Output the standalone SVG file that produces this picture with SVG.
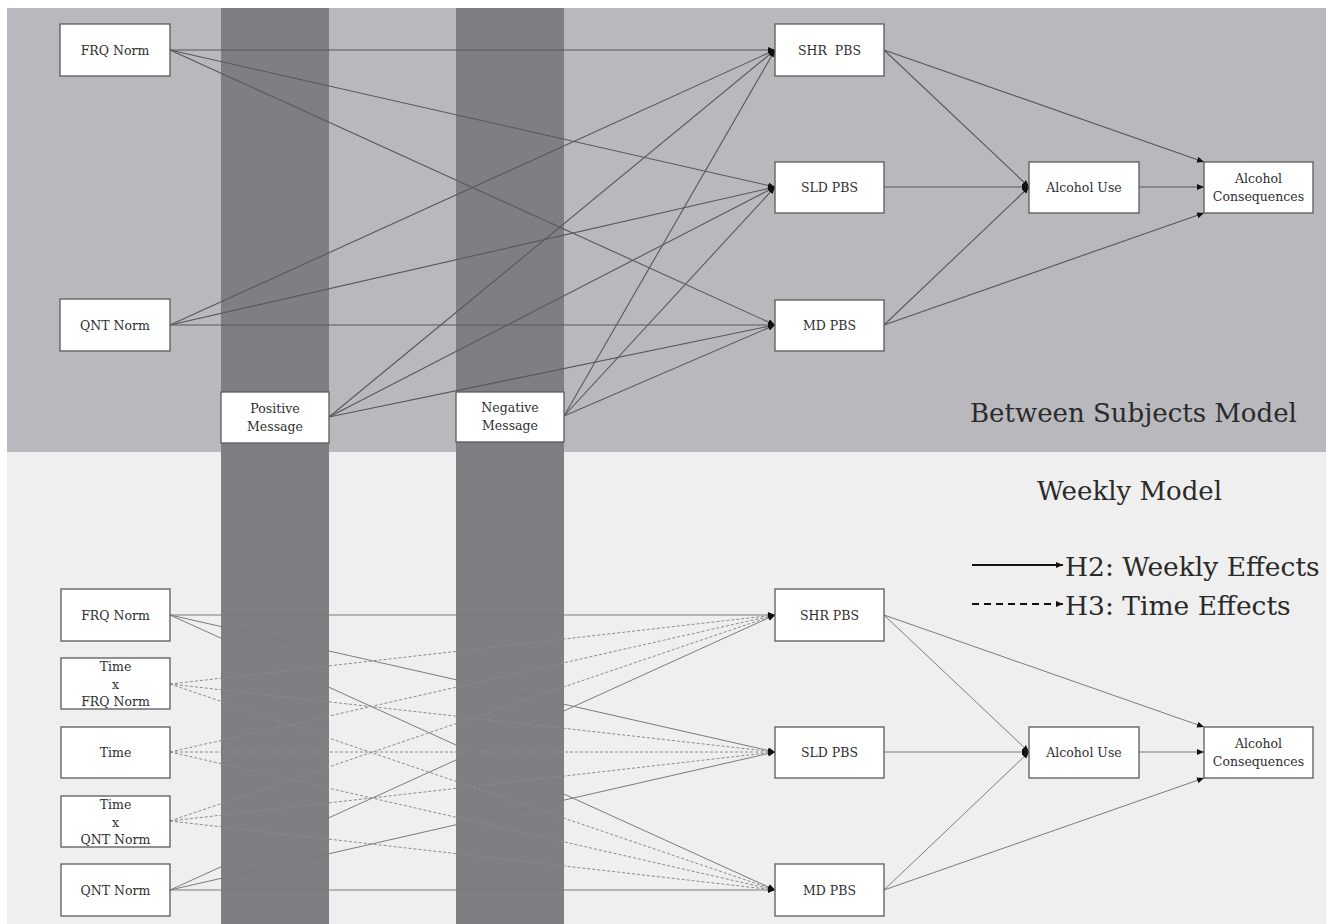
<svg xmlns="http://www.w3.org/2000/svg" width="1336" height="924" viewBox="0 0 1336 924">
<defs>
<marker id="ah" markerUnits="userSpaceOnUse" markerWidth="8" markerHeight="8" refX="7" refY="4" orient="auto"><path d="M0,1 L7,4 L0,7 Z" fill="#111"/></marker>
<style>
.box{fill:#fff;stroke:#5a5a5a;stroke-width:1.3}
text{font-family:"DejaVu Serif","Liberation Serif",serif}
.t{font-size:12.5px;fill:#2e2e2e;text-anchor:middle}
.big{font-size:26px;fill:#2a2a2a}
.lg{font-size:26.5px;fill:#2a2a2a}
.ct{stroke:#58585c;stroke-width:1.1;fill:none;marker-end:url(#ah)}
.cb{stroke:#7c7c7c;stroke-width:1;fill:none;marker-end:url(#ah)}
.cd{stroke:#8c8c8c;stroke-width:1;fill:none;stroke-dasharray:3 2;marker-end:url(#ah)}
</style>
</defs>
<rect x="0" y="0" width="1336" height="924" fill="#ffffff"/>
<rect x="7" y="8" width="1319" height="444" fill="#b9b9bd"/>
<rect x="7" y="452" width="1319" height="472" fill="#efefef"/>
<rect x="221" y="8" width="108" height="916" fill="#7f7f83"/>
<rect x="456" y="8" width="108" height="916" fill="#7f7f83"/>
<text class="big" x="970" y="422">Between Subjects Model</text>
<text class="big" x="1037" y="500">Weekly Model</text>
<g id="legend">
<line x1="972" y1="565" x2="1063" y2="565" stroke="#111" stroke-width="2" marker-end="url(#ah)"/>
<text class="lg" x="1065" y="576">H2: Weekly Effects</text>
<line x1="972" y1="604" x2="1063" y2="604" stroke="#111" stroke-width="2" stroke-dasharray="7 5" marker-end="url(#ah)"/>
<text class="lg" x="1065" y="615">H3: Time Effects</text>
</g>
<g id="connectors">
<line class="ct" x1="170" y1="50" x2="775" y2="50"/>
<line class="ct" x1="170" y1="50" x2="775" y2="187"/>
<line class="ct" x1="170" y1="50" x2="775" y2="325"/>
<line class="ct" x1="170" y1="325" x2="775" y2="50"/>
<line class="ct" x1="170" y1="325" x2="775" y2="187"/>
<line class="ct" x1="170" y1="325" x2="775" y2="325"/>
<line class="ct" x1="329" y1="417" x2="775" y2="50"/>
<line class="ct" x1="329" y1="417" x2="775" y2="187"/>
<line class="ct" x1="329" y1="417" x2="775" y2="325"/>
<line class="ct" x1="564" y1="416" x2="775" y2="50"/>
<line class="ct" x1="564" y1="416" x2="775" y2="187"/>
<line class="ct" x1="564" y1="416" x2="775" y2="325"/>
<line class="ct" x1="884" y1="50" x2="1029" y2="187"/>
<line class="ct" x1="884" y1="50" x2="1204" y2="162"/>
<line class="ct" x1="884" y1="187" x2="1029" y2="187"/>
<line class="ct" x1="884" y1="325" x2="1029" y2="187"/>
<line class="ct" x1="884" y1="325" x2="1204" y2="213"/>
<line class="ct" x1="1139" y1="187" x2="1204" y2="187"/>
<line class="cb" x1="170" y1="615" x2="775" y2="615"/>
<line class="cb" x1="170" y1="615" x2="775" y2="752"/>
<line class="cb" x1="170" y1="615" x2="775" y2="890"/>
<line class="cd" x1="170" y1="684" x2="775" y2="615"/>
<line class="cd" x1="170" y1="684" x2="775" y2="752"/>
<line class="cd" x1="170" y1="684" x2="775" y2="890"/>
<line class="cd" x1="170" y1="752" x2="775" y2="615"/>
<line class="cd" x1="170" y1="752" x2="775" y2="752"/>
<line class="cd" x1="170" y1="752" x2="775" y2="890"/>
<line class="cd" x1="170" y1="821" x2="775" y2="615"/>
<line class="cd" x1="170" y1="821" x2="775" y2="752"/>
<line class="cd" x1="170" y1="821" x2="775" y2="890"/>
<line class="cb" x1="170" y1="890" x2="775" y2="615"/>
<line class="cb" x1="170" y1="890" x2="775" y2="752"/>
<line class="cb" x1="170" y1="890" x2="775" y2="890"/>
<line class="cb" x1="884" y1="615" x2="1029" y2="752"/>
<line class="cb" x1="884" y1="615" x2="1204" y2="727"/>
<line class="cb" x1="884" y1="752" x2="1029" y2="752"/>
<line class="cb" x1="884" y1="890" x2="1029" y2="752"/>
<line class="cb" x1="884" y1="890" x2="1204" y2="778"/>
<line class="cb" x1="1139" y1="752" x2="1204" y2="752"/>
</g>
<g id="b-frq"><rect class="box" x="60" y="24" width="110" height="52"/><text class="t" x="115" y="54.5">FRQ Norm</text></g>
<g id="b-qnt"><rect class="box" x="60" y="299" width="110" height="52"/><text class="t" x="115" y="329.5">QNT Norm</text></g>
<g id="b-pos"><rect class="box" x="221" y="392" width="108" height="51"/><text class="t" x="275" y="412.5">Positive</text><text class="t" x="275" y="430.5">Message</text></g>
<g id="b-neg"><rect class="box" x="456" y="392" width="108" height="50"/><text class="t" x="510" y="411.5">Negative</text><text class="t" x="510" y="429.5">Message</text></g>
<g id="b-shr"><rect class="box" x="775" y="24" width="109" height="52"/><text class="t" x="829.5" y="54.5" xml:space="preserve">SHR  PBS</text></g>
<g id="b-sld"><rect class="box" x="775" y="162" width="109" height="51"/><text class="t" x="829.5" y="191.5">SLD PBS</text></g>
<g id="b-md"><rect class="box" x="775" y="300" width="109" height="51"/><text class="t" x="829.5" y="329.5">MD PBS</text></g>
<g id="b-use"><rect class="box" x="1029" y="162" width="110" height="51"/><text class="t" x="1084" y="191.5">Alcohol Use</text></g>
<g id="b-cons"><rect class="box" x="1204" y="162" width="109" height="51"/><text class="t" x="1258.5" y="182.5">Alcohol</text><text class="t" x="1258.5" y="200.5">Consequences</text></g>
<g id="w-frq"><rect class="box" x="61" y="589" width="109" height="52"/><text class="t" x="115.5" y="619.5">FRQ Norm</text></g>
<g id="w-tfrq"><rect class="box" x="61" y="658" width="109" height="51"/><text class="t" x="115.5" y="671">Time</text><text class="t" x="115.5" y="688.5">x</text><text class="t" x="115.5" y="706">FRQ Norm</text></g>
<g id="w-time"><rect class="box" x="61" y="727" width="109" height="51"/><text class="t" x="115.5" y="756.5">Time</text></g>
<g id="w-tqnt"><rect class="box" x="61" y="796" width="109" height="51"/><text class="t" x="115.5" y="809">Time</text><text class="t" x="115.5" y="826.5">x</text><text class="t" x="115.5" y="844">QNT Norm</text></g>
<g id="w-qnt"><rect class="box" x="61" y="864" width="109" height="52"/><text class="t" x="115.5" y="894.5">QNT Norm</text></g>
<g id="w-shr"><rect class="box" x="775" y="589" width="109" height="52"/><text class="t" x="829.5" y="619.5">SHR PBS</text></g>
<g id="w-sld"><rect class="box" x="775" y="727" width="109" height="51"/><text class="t" x="829.5" y="756.5">SLD PBS</text></g>
<g id="w-md"><rect class="box" x="775" y="864" width="109" height="52"/><text class="t" x="829.5" y="894.5">MD PBS</text></g>
<g id="w-use"><rect class="box" x="1029" y="727" width="110" height="51"/><text class="t" x="1084" y="756.5">Alcohol Use</text></g>
<g id="w-cons"><rect class="box" x="1204" y="727" width="109" height="51"/><text class="t" x="1258.5" y="747.5">Alcohol</text><text class="t" x="1258.5" y="765.5">Consequences</text></g>
</svg>
